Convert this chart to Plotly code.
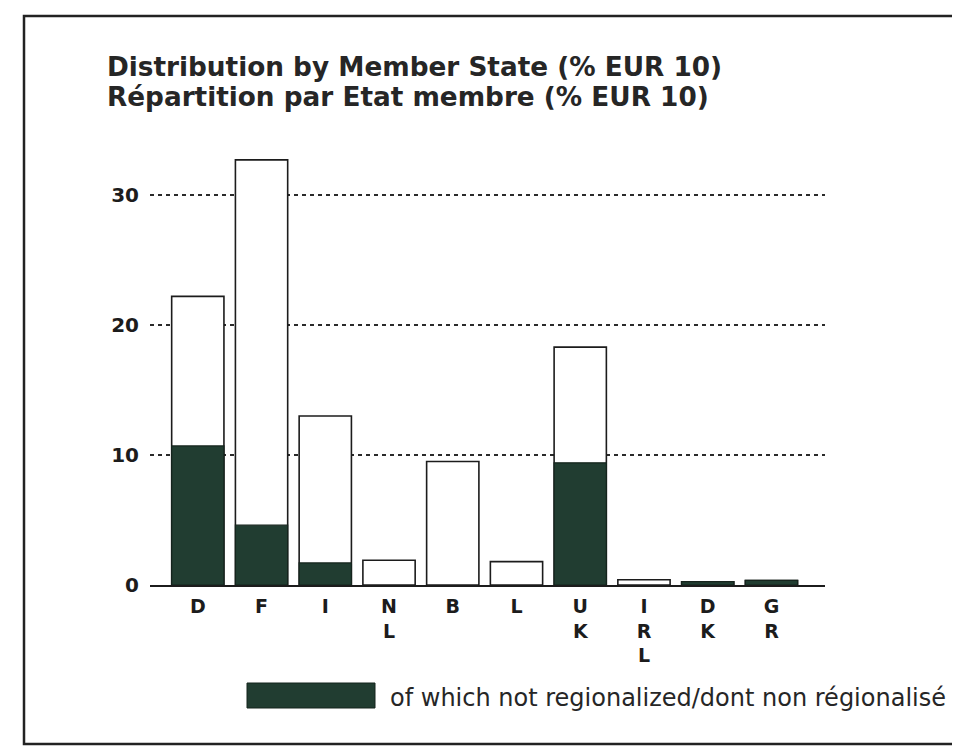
import plotly.graph_objects as go

# values (% of EUR 10)
states = ["D", "F", "I", "NL", "B", "L", "UK", "IRL", "DK", "GR"]
state_labels = ["D", "F", "I", "N<br>L", "B", "L", "U<br>K", "I<br>R<br>L", "D<br>K", "G<br>R"]
total_share = [22.2, 32.7, 13.0, 1.9, 9.5, 1.8, 18.3, 0.4, 0.25, 0.35]
not_regionalized = [10.7, 4.6, 1.7, None, None, None, 9.4, None, 0.25, 0.35]
y_ticks = [0, 10, 20, 30]

TITLE_1 = "Distribution by Member State (% EUR 10)"
TITLE_2 = "Répartition par Etat membre (% EUR 10)"
LEGEND_TEXT = "of which not regionalized/dont non régionalisé"

DARK = "#213d31"
INK = "#1c1c1c"

# the page has an 8px body margin, so the figure starts at (8, 8)
OFF = 8
W, H = 960 - OFF, 749 - OFF
# plot area on the page: x 150..825, y 150..585
L, R, T, B = 150 - OFF, 960 - 825, 150 - OFF, 749 - 585
PW, PH = W - L - R, H - T - B


def px(x, y):
    """page pixel position -> paper coordinates"""
    return (x - OFF - L) / PW, (H - B - (y - OFF)) / PH


fig = go.Figure()

fig.add_trace(
    go.Bar(
        x=states,
        y=total_share,
        width=0.82,
        marker=dict(color="white", line=dict(color=INK, width=1.6)),
        hoverinfo="x+y",
    )
)
fig.add_trace(
    go.Bar(
        x=states,
        y=not_regionalized,
        width=0.82,
        marker=dict(color=DARK, line=dict(color="#15241d", width=1.2)),
        hoverinfo="x+y",
    )
)

y_range = [0, PH / 13.0]
tick_font = dict(family="DejaVu Sans", size=20, color=INK, weight="bold")

fig.update_layout(
    width=W,
    height=H,
    margin=dict(l=L, r=R, t=T, b=B),
    barmode="overlay",
    showlegend=False,
    plot_bgcolor="white",
    paper_bgcolor="white",
    font=dict(family="DejaVu Sans", color=INK),
    xaxis=dict(
        range=[-0.75, 9.84],
        tickvals=states,
        ticktext=state_labels,
        tickfont=dict(family="DejaVu Sans", size=19, color=INK, weight="bold"),
        showgrid=False,
        showline=True,
        linecolor=INK,
        linewidth=2,
        ticks="",
        ticklabelstandoff=3,
    ),
    yaxis=dict(
        range=y_range,
        tickvals=y_ticks,
        tickfont=tick_font,
        showgrid=True,
        gridcolor="#2a2a2a",
        gridwidth=1.5,
        griddash="4px,4px",
        zeroline=False,
        ticks="",
        ticklabelstandoff=10,
    ),
    yaxis2=dict(
        range=y_range,
        overlaying="y",
        side="right",
        tickvals=y_ticks,
        tickfont=tick_font,
        showgrid=False,
        zeroline=False,
        ticks="",
        ticklabelstandoff=6,
    ),
)

# title, two lines
for text, y in [(TITLE_1, 67), (TITLE_2, 97)]:
    ax, ay = px(105, y)
    fig.add_annotation(
        x=ax, y=ay, xref="paper", yref="paper",
        xanchor="left", yanchor="middle",
        text=f"<b>{text}</b>", showarrow=False,
        font=dict(family="DejaVu Sans", size=26.3, color="#262626"),
    )

# legend key and text
x0, y0 = px(247, 683)
x1, y1 = px(375, 708)
fig.add_shape(
    type="rect", xref="paper", yref="paper",
    x0=x0, y0=y0, x1=x1, y1=y1,
    fillcolor=DARK, line=dict(color="#15241d", width=1),
)
lx, ly = px(388, 698)
fig.add_annotation(
    x=lx, y=ly, xref="paper", yref="paper",
    xanchor="left", yanchor="middle",
    text=LEGEND_TEXT, showarrow=False,
    font=dict(family="DejaVu Sans", size=24, color="#262626"),
)

# frame round the whole chart (right side runs off the page)
fx0, fy0 = px(24, 744)
fx1, fy1 = px(975, 16)
fig.add_shape(
    type="rect", xref="paper", yref="paper",
    x0=fx0, y0=fy0, x1=fx1, y1=fy1,
    line=dict(color="#222222", width=2.5), layer="below",
)

fig.write_html("out.html")
